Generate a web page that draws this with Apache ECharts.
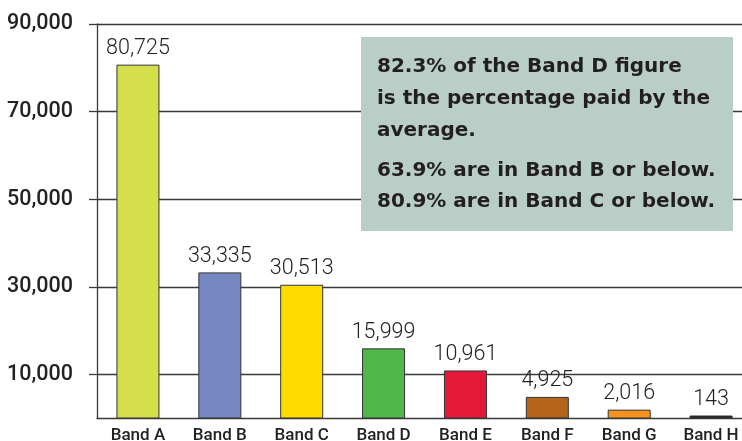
<!DOCTYPE html>
<html>
<head>
<meta charset="utf-8">
<script src="https://cdn.jsdelivr.net/npm/echarts@6/dist/echarts.min.js"></script>
<style>html,body{margin:0;padding:0;background:#fff;}#c{width:742px;height:441px;}</style>
</head>
<body>
<div id="c"></div>
<script>
const categories = ['Band A','Band B','Band C','Band D','Band E','Band F','Band G','Band H'];
const values = [80725, 33335, 30513, 15999, 10961, 4925, 2016, 143];
const barColors = ['#d4df4b','#7586c1','#ffdc00','#4fb848','#e4193a','#b4641b','#f7921e','#231f20'];
const yTicks = [10000, 30000, 50000, 70000, 90000];
const noteLines1 = ['82.3% of the Band D figure', 'is the percentage paid by the', 'average.'];
const noteLines2 = ['63.9% are in Band B or below.', '80.9% are in Band C or below.'];

const chart = echarts.init(document.getElementById('c'), null, {renderer: 'canvas'});
const fmt = v => v.toLocaleString('en-US');
const axisCol = '#3a3a3a';
chart.setOption({
  animation: false,
  backgroundColor: '#fff',
  grid: {left: 97, right: -10, top: 24, bottom: 22.5, outerBoundsMode: 'none', containLabel: false},
  xAxis: {
    type: 'category',
    data: categories,
    axisLine: {lineStyle: {color: axisCol, width: 1.3}},
    axisTick: {show: false},
    axisLabel: {color: '#222', fontFamily: 'Roboto', fontWeight: 500, fontSize: 17, margin: 9}
  },
  yAxis: {
    type: 'value',
    min: 0,
    max: 90000,
    axisLine: {show: true, lineStyle: {color: axisCol, width: 1.3}},
    axisTick: {show: true, length: 8, customValues: yTicks, lineStyle: {color: axisCol, width: 1.3}},
    axisLabel: {customValues: yTicks, formatter: v => fmt(v), color: '#222', fontFamily: 'Roboto', fontWeight: 500, fontSize: 21.5, margin: 24},
    splitLine: {show: true, lineStyle: {color: axisCol, width: 1.3}}
  },
  series: [{
    type: 'bar',
    barWidth: 43,
    barMinHeight: 3,
    data: values.map((v, i) => ({value: v, itemStyle: {color: barColors[i]}})),
    itemStyle: {borderColor: '#333', borderWidth: 1},
    label: {show: true, position: 'top', distance: 5, formatter: p => fmt(p.value), color: '#222', fontFamily: 'Roboto', fontWeight: 300, fontSize: 21.5}
  }],
  graphic: [
    {type: 'rect', left: 361, top: 37, shape: {width: 372, height: 194}, style: {fill: '#b9cec7'}, z: 10},
    {type: 'text', left: 377, top: 51, z: 11, style: {text: noteLines1.join('\n'), font: 'bold 20px "DejaVu Sans"', fill: '#231f20', lineHeight: 32}},
    {type: 'text', left: 377, top: 155, z: 11, style: {text: noteLines2.join('\n'), font: 'bold 20px "DejaVu Sans"', fill: '#231f20', lineHeight: 31}}
  ]
});
</script>
</body>
</html>
